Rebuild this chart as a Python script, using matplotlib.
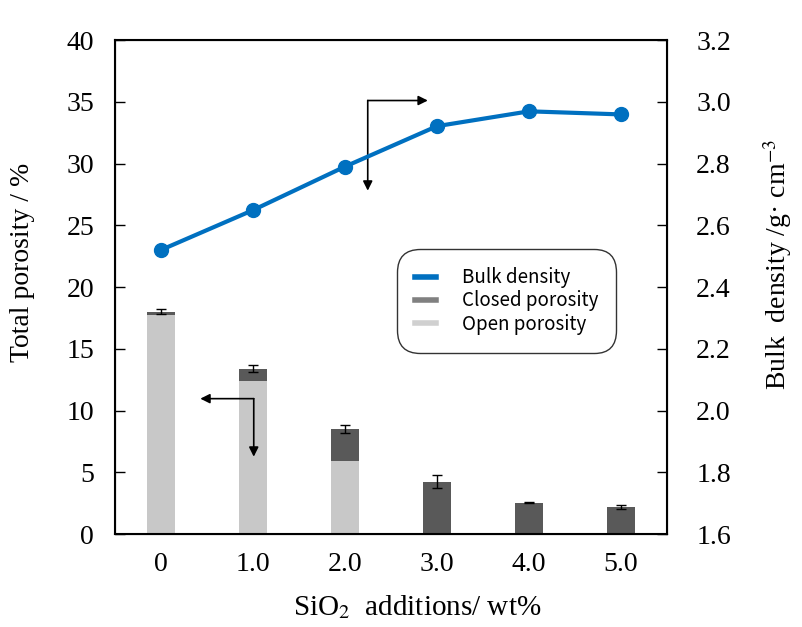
import matplotlib.pyplot as plt
from matplotlib.lines import Line2D

plt.rcParams['font.family'] = ['Liberation Serif', 'DejaVu Serif']
plt.rcParams['mathtext.fontset'] = 'stix'

# Data
labels = ['0', '1.0', '2.0', '3.0', '4.0', '5.0']
open_por = [17.7, 12.4, 5.9, 0, 0, 0]           # %
closed_por = [0.3, 1.0, 2.6, 4.24, 2.54, 2.18]  # %
por_err = [0.2, 0.3, 0.3, 0.5, 0.05, 0.15]
bulk_density = [2.52, 2.649, 2.79, 2.921, 2.969, 2.959]  # g/cm3

x = list(range(len(labels)))
total = [o + c for o, c in zip(open_por, closed_por)]

fig = plt.figure(figsize=(8.02, 6.27), dpi=100)
ax = fig.add_axes([0.1434, 0.1483, 0.6883, 0.7879])

ax.bar(x, open_por, width=0.3, color='#c8c8c8', zorder=2)
ax.bar(x, closed_por, width=0.3, bottom=open_por, color='#595959', zorder=2)
ax.errorbar(x, total, yerr=por_err, fmt='none', ecolor='black',
            elinewidth=1, capsize=3.5, capthick=1, zorder=3)

ax.set_xlim(-0.5, 5.5)
ax.set_ylim(0, 40)
ax.set_yticks(range(0, 41, 5))
ax.set_xticks(x)
ax.set_xticklabels(labels)
ax.tick_params(axis='x', length=0, pad=13, labelsize=20)
ax.tick_params(axis='y', direction='in', length=7, width=1, pad=15, labelsize=20)
for s in ax.spines.values():
    s.set_linewidth(1.5)
ax.set_ylabel('Total porosity / %', fontsize=20)
ax.yaxis.set_label_coords(-0.145, 0.549)
ax.set_xlabel('SiO$_2$  additions/ wt%', fontsize=21)
ax.xaxis.set_label_coords(0.547, -0.119)

ax2 = ax.twinx()
ax2.plot(x, bulk_density, color='#0070c0', lw=3, marker='o', ms=10, zorder=4)
ax2.set_ylim(1.6, 3.2)
ax2.set_yticks([1.6, 1.8, 2.0, 2.2, 2.4, 2.6, 2.8, 3.0, 3.2])
ax2.set_yticklabels(['%.1f' % v for v in ax2.get_yticks()])
ax2.tick_params(axis='y', direction='in', length=7, width=1, pad=21, labelsize=20)
ax2.set_ylabel('Bulk  density /g· cm$^{-3}$', fontsize=20)
ax2.yaxis.set_label_coords(1.17, 0.545)

# indicator arrows
ap = dict(arrowstyle='-|>', color='black', lw=1.2, mutation_scale=14,
          shrinkA=0, shrinkB=0)
ax.annotate('', xy=(2.90, 35.1), xytext=(2.247, 35.1), arrowprops=ap, zorder=5)
ax.annotate('', xy=(2.247, 27.8), xytext=(2.247, 35.1), arrowprops=ap, zorder=5)
ax.annotate('', xy=(0.427, 10.96), xytext=(1.008, 10.96), arrowprops=ap, zorder=5)
ax.annotate('', xy=(1.008, 6.26), xytext=(1.008, 10.96), arrowprops=ap, zorder=5)

handles = [Line2D([], [], color='#0070c0', lw=4),
           Line2D([], [], color='#808080', lw=4),
           Line2D([], [], color='#d0d0d0', lw=4)]
leg = ax2.legend(handles, ['Bulk density', 'Closed porosity', 'Open porosity'],
                 loc='center', bbox_to_anchor=(0.632, 0.52),
                 bbox_transform=fig.transFigure,
                 prop={'family': ['Noto Sans CJK JP', 'DejaVu Sans'], 'size': 13.5},
                 handlelength=1.1, handletextpad=1.4, labelspacing=0.12,
                 borderpad=0.65, fancybox=True, framealpha=1)
leg.get_frame().set_boxstyle('round,pad=0.3,rounding_size=1.2')
leg.get_frame().set_edgecolor('#333333')
leg.get_frame().set_linewidth(1)

fig.savefig('out.png', dpi=100)
